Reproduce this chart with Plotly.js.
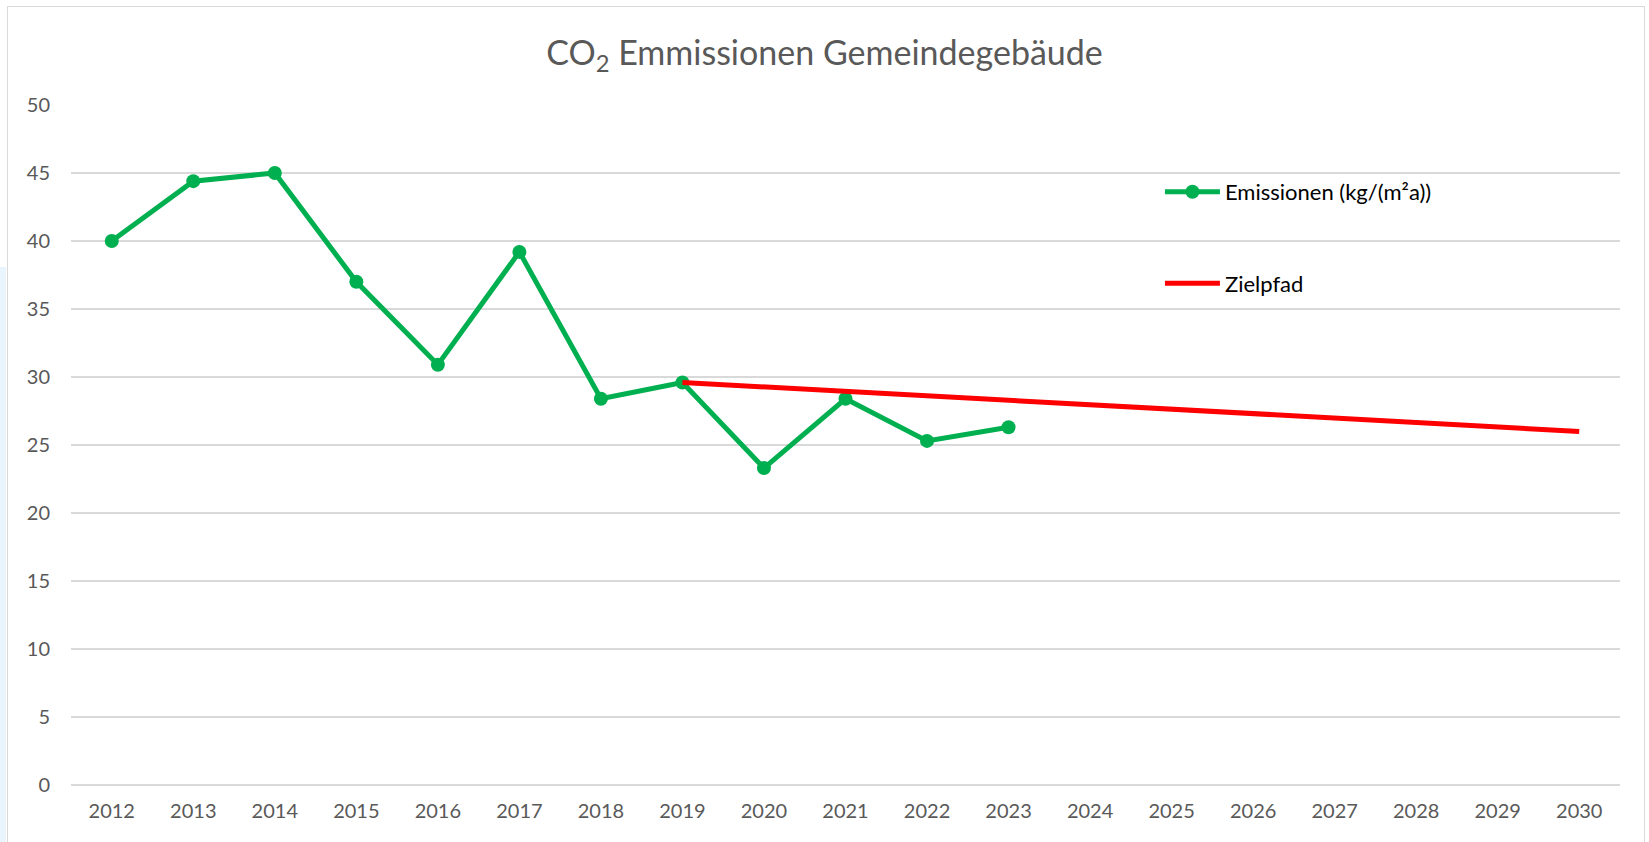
<!DOCTYPE html>
<html><head><meta charset="utf-8">
<script src="https://cdn.plot.ly/plotly-3.0.1.min.js"></script>
<style>
html,body{margin:0;padding:0;background:#fff;}
#wrap{position:relative;width:1649px;height:842px;overflow:hidden;}
#frame{position:absolute;left:7px;top:6px;width:1638px;height:860px;border:1px solid #d9d9d9;box-sizing:border-box;pointer-events:none;}
#strip{position:absolute;left:0;top:267px;width:6px;height:600px;background:#eaf4fc;}
#chart{position:absolute;left:0;top:0;width:1649px;height:842px;}
</style></head>
<body><div id="wrap"><div id="strip"></div><div id="chart"></div><div id="frame"></div></div>
<script>
const years = ['2012','2013','2014','2015','2016','2017','2018','2019','2020','2021','2022','2023','2024','2025','2026','2027','2028','2029','2030'];
const emissionYears = ['2012','2013','2014','2015','2016','2017','2018','2019','2020','2021','2022','2023'];
const emissionValues = [40.0, 44.4, 45.0, 37.0, 30.9, 39.2, 28.4, 29.6, 23.3, 28.4, 25.3, 26.3];
const targetYears = ['2019','2030'];
const targetValues = [29.6, 26.0];
const yTicks = [0,5,10,15,20,25,30,35,40,45,50];

const fontFam = 'Lato, "Open Sans", sans-serif';
const traces = [
  {x: emissionYears, y: emissionValues, type:'scatter', mode:'lines+markers', name:'Emissionen (kg/(m²a))',
   legendgroup:'a', line:{color:'#00B050', width:5}, marker:{color:'#00B050', size:14}},
  {x: targetYears, y: targetValues, type:'scatter', mode:'lines', name:'Zielpfad',
   legendgroup:'b', line:{color:'#FF0000', width:5}}
];
const layout = {
  width:1649, height:842,
  margin:{l:71, r:29, t:105, b:57},
  paper_bgcolor:'rgba(0,0,0,0)', plot_bgcolor:'#fff',
  title:{text:'CO<sub>2</sub> Emmissionen Gemeindegebäude', x:0.5, xanchor:'center', y:0.937, yanchor:'middle',
         font:{family:fontFam, size:34, color:'#595959'}},
  xaxis:{type:'category', categoryorder:'array', categoryarray:years, range:[-0.5, 18.5],
         tickvals:years, ticktext:years, showgrid:false, showline:false, zeroline:false, ticks:'',
         ticklabelstandoff:12, tickfont:{family:fontFam, size:20, color:'#595959'}},
  yaxis:{range:[0,50], tickvals:yTicks, showgrid:true, gridcolor:'#d9d9d9', gridwidth:1.5,
         zeroline:true, zerolinecolor:'#d9d9d9', zerolinewidth:1.5, showline:false, ticks:'',
         ticklabelstandoff:20, tickfont:{family:fontFam, size:20, color:'#595959'}},
  showlegend:true,
  legend:{x:0.703, xanchor:'left', y:0.903, yanchor:'top', traceorder:'grouped', tracegroupgap:60,
          itemwidth:55, bgcolor:'rgba(0,0,0,0)', font:{family:fontFam, size:22, color:'#000'}},
  font:{family:fontFam}
};
Plotly.newPlot('chart', traces, layout, {displayModeBar:false, staticPlot:true});
</script></body></html>
